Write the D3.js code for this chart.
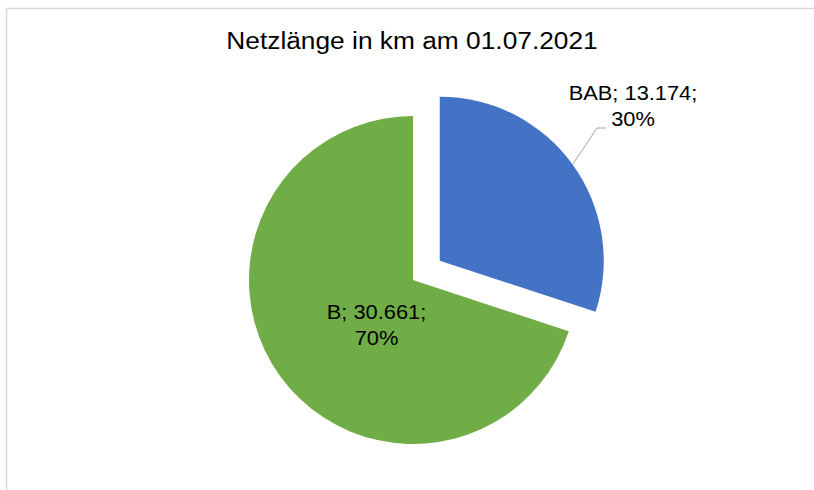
<!DOCTYPE html>
<html>
<head>
<meta charset="utf-8">
<script src="https://cdn.jsdelivr.net/npm/d3@7"></script>
<style>
  body { margin: 0; background: #fff; }
  svg { display: block; }
</style>
</head>
<body>
<div id="chart"></div>
<script>
// data
const categories = ["BAB", "B"];
const netzKm = [13174, 30661];
const sliceColors = ["#4472C4", "#70AD47"];
const chartTitle = "Netzlänge in km am 01.07.2021";

window.addEventListener('load', makePie);

function makePie(){
  let width = 814;
  let height = 490;
  let cx = 413, cy = 280;
  let radius = 164;
  let explode = 33;
  let stretch = 1.12; // text in the reference is a bit wider than plain Arial

  let de = d3.formatLocale({decimal: ",", thousands: ".", grouping: [3], currency: ["", " €"]});
  let fmtNum = de.format(",d");
  let fmtPct = d3.format(".0%");

  let color = d3.scaleOrdinal()
      .domain(categories)
      .range(sliceColors);

  let data = categories.map((c, i) => ({name: c, value: netzKm[i]}));
  let total = d3.sum(netzKm);

  const svg = d3.select("#chart")
      .append("svg")
      .attr("width", width)
      .attr("height", height)
      .attr("font-family", "'Liberation Sans', Arial, sans-serif");

  // outer frame of the chart area
  svg.append("rect")
      .attr("x", 6.5)
      .attr("y", 8.5)
      .attr("width", 900)
      .attr("height", 600)
      .attr("fill", "#fff")
      .attr("stroke", "#d9d9d9")
      .attr("stroke-width", 1.5);

  svg.append("text")
      .attr("transform", `translate(412,49) scale(${stretch},1)`)
      .attr("text-anchor", "middle")
      .attr("font-size", 23.5)
      .attr("fill", "#000")
      .text(chartTitle);

  let pie = d3.pie()
      .sort(null)
      .value(d => d.value)
      .startAngle(0)
      .endAngle(2 * Math.PI);

  let arc = d3.arc()
      .innerRadius(0)
      .outerRadius(radius);

  let arcs = pie(data);

  // offset of a slice (only BAB is pulled out)
  function offset(d){
    if (d.data.name !== "BAB") return [0, 0];
    let a = (d.startAngle + d.endAngle) / 2;
    return [explode * Math.sin(a), -explode * Math.cos(a)];
  }

  const g = svg.append("g")
      .attr("transform", `translate(${cx},${cy})`);

  g.selectAll("path")
    .data(arcs)
    .join("path")
      .attr("transform", d => `translate(${offset(d)})`)
      .attr("d", arc)
      .attr("fill", d => color(d.data.name));

  let labelPos = {BAB: [633, 100], B: [376.5, 319]};

  // leader line for the outside label, from the slice edge to the label
  let bab = arcs[0];
  let o = offset(bab);
  let mid = (bab.startAngle + bab.endAngle) / 2;
  let p0 = [cx + o[0] + radius * Math.sin(mid), cy + o[1] - radius * Math.cos(mid)];
  let lp = labelPos.BAB;
  let elbow = [lp[0] - 36, lp[1] + 28];
  let p1 = [lp[0] - 27, lp[1] + 28];

  svg.append("polyline")
      .attr("points", [p0, elbow, p1].map(p => p.join(",")).join(" "))
      .attr("fill", "none")
      .attr("stroke", "#a6a6a6")
      .attr("stroke-width", 1);

  const labels = svg.append("g")
      .attr("font-size", 19.5)
      .attr("fill", "#000")
      .attr("text-anchor", "middle")
    .selectAll("text")
    .data(arcs)
    .join("text")
      .attr("transform", d => `translate(${labelPos[d.data.name]}) scale(${stretch},1)`);

  labels.append("tspan")
      .attr("x", 0)
      .attr("y", 0)
      .text(d => `${d.data.name}; ${fmtNum(d.data.value)};`);

  labels.append("tspan")
      .attr("x", 0)
      .attr("y", 26.5)
      .text(d => fmtPct(d.data.value / total));
}
</script>
</body>
</html>
